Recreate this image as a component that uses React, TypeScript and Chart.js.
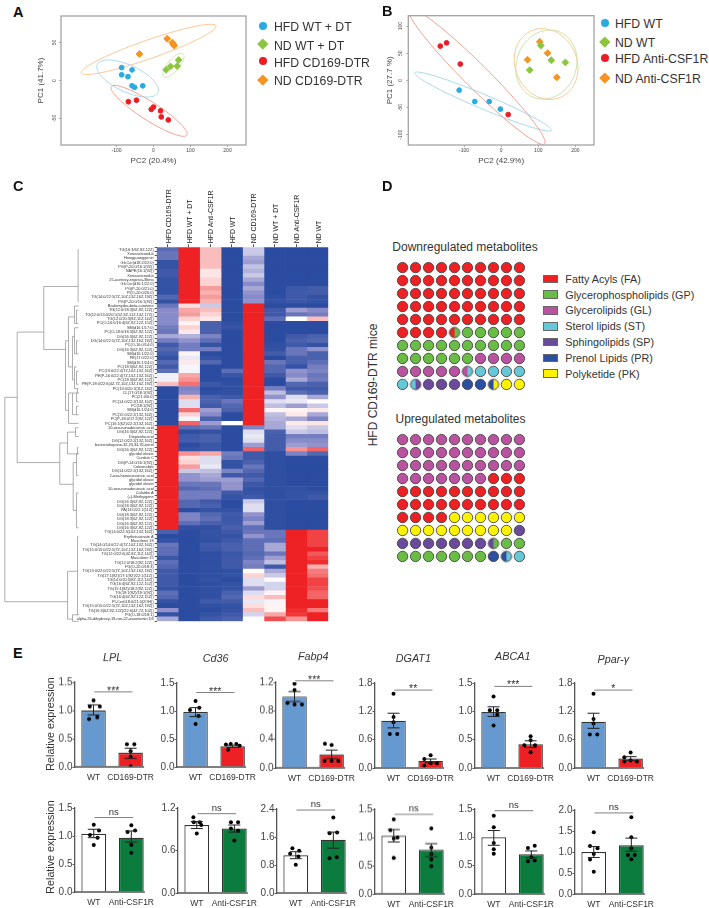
import React, { useEffect, useRef } from "react";
import { Chart, registerables } from "chart.js";
Chart.register(...registerables);

const FONT = "'Liberation Sans', Arial, sans-serif";

// ---------- Panel A ----------
const pcaALegend = ["HFD WT + DT", "ND WT + DT", "HFD CD169-DTR", "ND CD169-DTR"];
const pcaAHfdWt = [[-86, 17], [-58, 14], [-86, 7.5], [-69, 5], [-58, -7], [-51, -9], [-29, -7]];
const pcaANdWt = [[34, 14], [46, 18.5], [64, 19], [68, 27]];
const pcaAHfdDtr = [[-68, -28], [-46, -26], [-6, -38], [0, -35], [19, -40], [21, -48], [40, -52]];
const pcaANdDtr = [[-38, 35], [37, 55], [51, 50], [56, 46], [53, 48]];
// centre x, centre y, major axis x, y, minor axis x, y (data units)
const pcaAEllipses = [
  [-70, 2.6, 82, -18.5, -15, -16],
  [54, 20, 26, 15, 12, -5],
  [-12, -40, 102, -32, -14, -10],
  [-13, 41, 182, 31, 8, -11.6],
];
const pcaXTicks = [-100, 0, 100, 200];
const pcaAYTicks = [-50, 0, 50];

// ---------- Panel B ----------
const pcaBLegend = ["HFD WT", "ND WT", "HFD Anti-CSF1R", "ND Anti-CSF1R"];
const pcaBHfdWt = [[-113, -18], [-71, -39], [-32, -39], [-2, -53]];
const pcaBNdWt = [[107, 64], [135, 37], [173, 33], [77, 19]];
const pcaBHfdAnti = [[-164, 63], [-147, 69], [-110, 30], [19, -63]];
const pcaBNdAnti = [[104, 71], [125, 50], [71, 38], [150, 5.5]];
const pcaBEllipses = [
  [-49, -39, 184, -53, -8, -12],
  [122, 29, 32, 61, 76, -18],
  [-66, 7.4, 183, -124.5, 23, 15.6],
  [121, 30, -40, 61, 76, 23],
];
const pcaBYTicks = [-100, -50, 0, 50, 100];

const speciesColors = ["#29abe2", "#8cc63f", "#ed1c24", "#f7931e"];
const ellipseColors = ["#a9d8f0", "#c9e2a6", "#f2a091", "#f9c896"];

// ---------- Panel C ----------
const heatColumns = [
  "HFD CD169-DTR", "HFD WT + DT", "HFD Anti-CSF1R", "HFD WT",
  "ND CD169-DTR", "ND WT + DT", "ND Anti-CSF1R", "ND WT",
];
const metabolites = [
  "TG(16:3/6Z,9Z,12Z)", "Xenoasteroid-b", "Hongguanggenin", "GlcCer(d18:2/22:0)", "PG(P-20:0/16:1(9Z))",
  "NAPE(16:1(9Z))", "Xenoasteroid-b", "25-acetoxy-ergosta-3beta", "GlcCer(d16:1/22:0)", "PG(P-20:0/21:0)",
  "PI(O-20:0/20:0)", "TG(14:0/22:5(7Z,10Z,13Z,16Z,19Z))", "PG(P-20:0/16:1(9Z))", "Bisdemydro-beta-carotene", "TG(12:0/18:3(6Z,9Z,12Z))",
  "TG(12:0/13:0/20:5(5Z,8Z,11Z,14Z,17Z))", "TG(12:0/20:3(8Z,11Z,14Z))", "PC(O-16:0/16:4(6Z,9Z,12Z,15Z))", "SM(d16:1/17:0)", "PC(O-18:0/18:3(6Z,9Z,12Z))",
  "DG(16:3(6Z,9Z,12Z))", "DG(14:0/22:5(7Z,10Z,13Z,16Z,19Z))", "PC(O-16:0/14:0)", "DG(16:3(6Z,9Z,12Z))", "SM(d16:1/22:0)",
  "PE(17:0/22:0)", "SM(d16:1/24:0)", "PC(18:3(6Z,9Z,12Z))", "PC(13:0/22:4(7Z,10Z,13Z,16Z))", "PE(P-16:0/22:4(7Z,10Z,13Z,16Z))",
  "PC(18:3(6Z,9Z,12Z))", "PE(P-18:0/22:6(4Z,7Z,10Z,13Z,16Z,19Z))", "PC(13:0/20:3(11Z,14Z))", "CL(17:0/18:1(9Z))", "PC(21:0/0:0)",
  "PC(14:0/22:2(13Z,16Z))", "PC(18:1(9Z))", "SM(d16:1/24:0)", "PC(15:0/22:2(13Z,16Z))", "PC(P-18:0/17:2(9Z,12Z))",
  "PC(16:1(6Z)/22:2(13Z,16Z))", "10-oxo-nonadecanoic acid", "DG(16:3(6Z,9Z,12Z))", "Diepoxifucerol", "DG(12:0/22:2(13Z,16Z))",
  "bacteriohopane-32,33,34,35-tetrol", "DG(16:3(6Z,9Z,12Z))", "glycidol oleate", "Cumbin C", "DG(P-14:0/16:1(9Z))",
  "Coleonolide", "DG(14:0/22:2(13Z,16Z))", "2-oxo-heneicosanoic acid", "glycidol oleate", "glycidol oleate",
  "10-oxo-nonadecanoic acid", "Cafaldin A", "(+)-Methyigene", "DG(16:3(6Z,9Z,12Z))", "DG(18:3(6Z,9Z,12Z))",
  "PA(13:0/22:1(11Z))", "DG(18:3(6Z,9Z,12Z))", "DG(18:3(6Z,9Z,12Z))", "DG(16:3(6Z,9Z,12Z))", "DG(16:3(6Z,9Z,12Z))",
  "TG(14:0/22:3(10Z,13Z,16Z))", "Erythrinasinate A", "Mascilone 18", "TG(14:0/14:0/22:4(7Z,10Z,13Z,16Z))", "TG(15:0/15:0/22:5(7Z,10Z,13Z,16Z,19Z))",
  "TG(12:0/22:6(4Z,8Z,11Z,14Z))", "Mascilone 15", "TG(12:0/18:2(9Z,12Z))", "PG(O-20:0/18:3)", "TG(13:0/22:0/22:5(7Z,10Z,13Z,16Z,19Z))",
  "TG(17:1(9Z)/17:1(9Z)/22:1(11Z))", "TG(14:0/20:3(8Z,11Z,14Z))", "TG(16:4(6Z,9Z,12Z,15Z))", "TG(15:1(9Z)/18:2(9Z,12Z))", "TG(19:1(9Z)/19:1(9Z))",
  "TG(16:4(6Z,9Z,12Z,15Z))", "PI-Cer(t18:0/21:0(2OH))", "TG(15:0/15:0/22:5(7Z,10Z,13Z,16Z,19Z))", "TG(16:3(6Z,9Z,12Z)/22:6(4Z,7Z,10Z))", "PG(O-18:0/18:1)",
  "alpha,26-dihydroxy-19-nor-22-oxavitamin D3",
];
const heatCol1 = [
  .22, .3, .3, .05, .05, .1, .1, .05, .05, .05,
  .05, .2, .05, .3, .45, .45, .45, .45, .35, .3,
  .6, .35, .1, .2, .12, .05, .2, .1, .25, .93,
  .93, 1.3, 0, 0, 0, 0, 0, 0, 0, 0,
  0, 2, 2, 2, 2, 2, 2, 2, 2, 2,
  2, 2, 2, 2, 2, 2, 2, 2, 2, 2,
  2, 2, 2, 2, 2, .15, 0, .05, .3, .25,
  .25, .08, .25, .2, .1, .1, .1, .1, .05, .25,
  .2, .05, 0, .5, .05, .6,
];
const heatCol2 = [
  2, 2, 2, 2, 2, 2, 2, 2, 2, 2,
  2, 2, 2, 1.15, 1.4, 1.45, 1.2, 1.05, 1.2, 1.1,
  .65, .5, .35, .35, 1.05, .9, 1.1, .95, .95, 1.4,
  1.5, 1.65, .4, .45, 1.35, .85, .85, 1.65, 1.2, .95,
  1.7, .25, .02, .1, .12, 0, .05, 1.5, 1.15, 1.2,
  1.45, .75, .5, .5, .3, .2, .35, .35, .2, .2,
  0, .4, .4, .25, .03, 0, 0, 0, 0, 0,
  0, 0, 0, 0, 0, 0, 0, 0, 0, 0,
  0, 0, 0, 0, 0, 0,
];
const heatCol3 = [
  1.3, 1.3, 1.3, 1.3, 1.3, 1.12, 1.12, 1.2, 1.2, 1.45,
  1.35, 1.45, 1.35, .75, 1.3, 1.2, 1.1, .15, .15, .15,
  .4, .25, .05, .35, 0, .05, .2, 0, 0, 0,
  0, .08, 0, .02, .15, .15, .1, .55, .45, .15,
  .55, .3, .05, .15, .15, .08, .08, 1.4, .85, .85,
  .9, .7, .6, .55, .3, .25, .35, .35, .1, .15,
  .05, .2, .25, .15, .03, .05, .05, .03, .1, .08,
  .02, .03, .02, .03, .02, .02, .05, .02, .03, .03,
  .03, .1, .03, 0, .05, .1,
];
const heatCol4 = [
  0, 0, 0, 0, 0, 0, 0, 0, 0, 0,
  0, 0, 0, 0, 0, 0, 0, .03, .06, 0,
  0, 0, 0, 0, 0, 0, 0, 0, .25, .08,
  0, .03, .03, .03, .1, .3, .2, .15, 0, 0,
  1, 0, 0, 0, 0, 0, 0, .35, .3, .05,
  .05, .4, .1, .55, .5, .5, .1, .05, 0, 0,
  .05, .1, .08, .1, .15, .1, .05, .1, .15, .15,
  .08, .1, .1, .1, .03, .05, 0, .05, .05, .15,
  .2, .12, .05, .05, .1, .15,
];
const heatCol5 = [
  .75, .75, .6, .55, .72, .65, .75, .6, .45, .6,
  .5, .45, .5, 2, 2, 2, 2, 2, 2, 2,
  2, 2, 2, 2, 2, 2, 2, 2, 2, 2,
  2, 2, 2, 2, 2, 2, 2, 2, 2, 2,
  2, .4, .85, .9, .85, .55, 1.7, .1, .1, .15,
  .3, .2, .1, .2, .08, .05, .05, .1, .75, .85,
  .85, .5, .4, .55, .25, .3, .5, .25, .25, .25,
  .2, .25, .4, .35, 1.02, 1.2, .85, .85, .55, .85,
  1.15, .9, 1.15, 1.3, .8, 1,
];
const heatCol6 = [
  0, 0, 0, 0, 0, 0, 0, 0, 0, 0,
  0, .02, .04, 0, .1, .1, .25, 0, 0, 0,
  0, 0, .03, .04, .12, 0, .3, .2, .2, .1,
  0, 0, .35, .7, .5, .85, .7, 1.05, .7, .65,
  .6, .6, .15, .12, .12, .12, .12, .02, .02, .02,
  .02, .02, .02, .02, .02, .02, .02, .02, .02, .02,
  .02, .02, .02, .02, .02, .3, .3, .25, .6, .6,
  .3, .55, .7, .1, .6, .75, 1.02, .8, .8, 1.05,
  1.3, .95, 1.05, 1.05, 1.4, 1.8,
];
const heatCol7 = [
  0, 0, 0, 0, 0, 0, 0, 0, 0, .08,
  .1, .1, .08, 0, .55, .3, 1, 0, 0, 0,
  .1, .15, .1, .3, .3, .15, .15, .05, .5, .45,
  .6, .2, .1, .25, .85, .9, .55, 1.05, 1.1, .6,
  1.1, .85, .75, .35, .45, .55, 1.5, .4, 0, 0,
  0, 0, 0, 0, 0, .03, .05, .05, 0, 0,
  0, 0, 0, 0, 0, 2, 2, 2, 2, 2,
  2, 2, 2, 2, 2, 2, 2, 2, 2, 2,
  2, 2, 2, 1.95, 1.9, 1.5,
];
const heatCol8 = [
  0, 0, 0, 0, 0, 0, 0, 0, 0, .12,
  .12, .05, .05, 0, .45, .35, 1.3, 0, 0, 0,
  .15, .2, .05, .5, .15, .15, .25, .35, .4, .3,
  .35, .15, .1, .15, .6, 1.02, .75, 1.1, .6, .4,
  1.12, .75, .7, .35, .45, .5, 1.7, .2, 0, 0,
  0, 0, 0, 0, 0, 0, .05, .1, 0, 0,
  0, 0, 0, 0, 0, 1.85, 1.85, 1.85, 1.85, 2,
  1.75, 1.85, 1.95, 1.35, 1.6, 1.65, 1.85, 1.85, 1.8, 1.7,
  1.7, 2, 2, 1.6, 2, 2,
];
const heatColumnsValues = [heatCol1, heatCol2, heatCol3, heatCol4, heatCol5, heatCol6, heatCol7, heatCol8];
// tree merges: height, upper row, lower row, upper child height, lower child height
const dendrogram = [
  [73.7, 34, 81, 61.3, 11], [61.3, 19, 49, 34.7, 18.7], [34.7, 8.5, 23, .4, 13], [.4, 0, 12, 0, 0],
  [13, 21, 37, 10, 10], [10, 15.5, 27, 4, 6], [4, 13, 17, 0, 2], [6, 20, 30, 4, 4], [4, 18, 24, 0, 2],
  [4, 27, 32, 2, 1], [10, 33, 40, 6, 0], [6, 33, 38, 2, 2], [2, 14, 17, 0, 0], [2, 21, 24, 0, 0],
  [2, 28, 31, 0, 0], [1, 32, 33, 0, 0], [2, 33, 35, 0, 0], [2, 36, 38, 0, 0],
  [18.7, 44.5, 54, 11, 5.3], [11, 42, 47, 3, 1], [5.3, 49, 60, 2, 2], [2, 47, 52, 0, 0], [2, 56, 64, 0, 0],
  [3, 41, 43, 0, 0], [1, 45.5, 47, 0, 0], [11, 74, 85, 1, 6], [1, 66, 84, 0, 0], [6, 84, 85.5, 0, 0],
];

// ---------- Panel D ----------
const lipidClasses = [
  "Fatty Acyls (FA)", "Glycerophospholipids (GP)", "Glycerolipids (GL)", "Sterol lipids (ST)",
  "Sphingolipids (SP)", "Prenol Lipids (PR)", "Polyketide (PK)",
];
const lipidCodes = ["FA", "GP", "GL", "ST", "SP", "PR", "PK"];
const lipidColors = ["#ed2024", "#69bd45", "#b9529f", "#66c7d9", "#6a4a9c", "#2d4fa1", "#fff200"];
const downRows = [
  "FA FA FA FA FA FA FA FA FA FA", "FA FA FA FA FA FA FA FA FA FA", "FA FA FA FA FA FA FA FA FA FA",
  "FA FA FA FA FA FA FA FA FA FA", "FA FA FA FA FA FA FA FA FA FA", "FA FA FA FA FA/GP GP GP GP GP GP",
  "GP GP GP GP GP GP GP GP GP GP", "GP GP GP GP GP GP GL GL GL GL", "GL GL GL GL GL GL/ST ST ST ST ST",
  "ST ST/SP SP SP SP PR PR PR/PK PK PK",
];
const upRows = [
  "GL GL GL GL GL GL GL GL GL GL", "GL GL GL GL GL GL GL GL GL GL", "GL GL GL GL GL GL GL GL GL GL",
  "GL GL GL GL GL GL GL FA FA FA", "FA FA FA FA FA FA FA FA FA FA", "FA FA FA FA FA FA FA FA FA FA",
  "FA FA FA FA PK PK PK PK PK PK", "PK PK PK PK PK PK PK PK PK SP", "SP SP SP SP SP SP SP SP/GP GP GP",
  "GP GP GP GP GP GP GP PR PR/ST ST",
];

// ---------- Panel E ----------
const genes = ["LPL", "Cd36", "Fabp4", "DGAT1", "ABCA1", "Ppar-γ", "", "", "", "", "", ""];
const groupsTop = ["WT", "CD169-DTR"];
const groupsBottom = ["WT", "Anti-CSF1R"];
const yMaxes = [1.5, 1.5, 1.2, 1.8, 1.5, 1.8, 1.5, 1.2, 2.4, 1.5, 1.5, 2.0];
const ySteps = [.5, .5, .4, .6, .5, .6, .5, .6, .8, .5, .5, .5];
const wtMeans = [1.0, .98, 1.0, 1.0, .99, .98, 1.04, .96, 1.08, 1.03, 1.0, 1.0];
const otherMeans = [.25, .37, .19, .15, .42, .2, .97, .91, 1.52, .78, .7, 1.16];
const wtErrHigh = [1.1, 1.06, 1.07, 1.16, 1.08, 1.16, 1.12, 1.01, 1.18, 1.14, 1.12, 1.13];
const wtErrLow = [.92, .9, .93, .85, .91, .84, .97, .91, .98, .92, .86, .87];
const otherErrHigh = [.33, .39, .25, .19, .48, .24, 1.09, .96, 1.74, .89, .76, 1.33];
const otherErrLow = [.15, .35, .13, .11, .36, .16, .89, .86, 1.28, .66, .64, 1.02];
const wtValues = [
  [1.18, 1.07, 1.07, .85, .88], [1.18, 1.06, 1.02, .91, .77], [1.18, 1.09, .91, .89, .89],
  [1.57, 1.08, .97, .72, .72], [1.26, 1.02, 1.02, .94, .75], [1.57, 1.04, .94, .71, .71],
  [1.2, 1.1, 1.02, .97, .84], [1.07, 1.0, .96, .84, 1.0], [1.28, 1.21, 1.12, 1.04, .81],
  [1.32, 1.13, 1.0, .98, .64], [1.38, 1.18, .9, .79, .71], [1.47, 1.14, 1.09, .95, .82, .53],
];
const wtJitter = [
  [0, .17, -.1, -.12, .1], [0, .1, -.15, .08, 0], [0, 0, -.19, 0, .2],
  [0, 0, 0, -.1, .1], [0, -.1, .1, .1, 0], [0, 0, 0, -.1, .1],
  [0, .14, -.1, .1, 0], [-.09, .08, .12, 0, -.08], [-.09, .09, -.15, .07, 0],
  [0, -.09, .1, 0, 0], [0, 0, 0, 0, 0], [0, -.1, .1, 0, -.1, 0],
];
const otherValues = [
  [.4, .4, .28, .18, .01], [.4, .41, .41, .38, .31], [.34, .32, .1, .1, .1],
  [.27, .19, .05, .1, .1], [.56, .49, .4, .4, .28], [.33, .23, .14, .16, .14],
  [1.19, 1.07, 1.1, .84, .7], [1.0, 1.0, .91, .88, .74], [2.16, 1.71, 1.73, 1.02, .99],
  [1.16, .82, .71, .61, .49], [.85, .81, .58, .59, .65], [1.83, 1.35, 1.09, .93, .93, .83],
];
const otherJitter = [
  [-.1, .1, 0, 0, 0], [-.18, -.05, .1, .19, -.12], [-.18, 0, -.19, 0, .18],
  [0, -.17, -.17, 0, .17], [0, 0, -.17, .12, 0], [0, -.17, -.17, 0, .17],
  [0, -.1, .1, 0, 0], [-.09, .1, -.09, .1, 0], [0, -.1, .1, .09, -.1],
  [0, 0, 0, 0, 0], [.09, -.09, -.09, .09, 0], [0, 0, 0, -.09, .09, 0],
];
const sigLabels = ["***", "***", "***", "**", "***", "*", "ns", "ns", "ns", "ns", "ns", "ns"];
const sigLevels = [1.33, 1.33, 1.22, 1.65, 1.44, 1.65, 1.33, 1.12, 2.37, 1.41, 1.47, 1.93];

// ---------- layout ----------
const plotsE = [
  [75, 682.3, 766.7], [176.7, 682.7, 767.3], [276, 682.3, 768], [375, 683.3, 768.3], [475, 683.3, 768.3], [575, 683.3, 768.3],
  [75, 807.7, 892.3], [177.7, 808.3, 893.3], [276.7, 809, 893.3], [375, 809, 893.7], [475, 809.3, 894.3], [575, 809.7, 894.3],
];
const titlePosE = [[112.7, 658.3], [215.3, 658.7], [313.3, 657], [413.3, 659.7], [512.7, 657.7], [613.3, 660]];

function pin(box: any, area: any) {
  return {
    padding: { left: 0, bottom: 0, top: area.y - box.y, right: box.x + box.w - area.x - area.w },
    yW: area.x - box.x,
    xH: box.y + box.h - area.y - area.h,
  };
}
const pairs = (a: number[][]) => a.map(([x, y]) => ({ x, y }));

function ellipsePlugin(items: number[][]) {
  return {
    id: "ellipses",
    beforeDatasetsDraw(chart: any) {
      const { ctx, chartArea, scales } = chart;
      ctx.save();
      ctx.beginPath();
      ctx.rect(chartArea.left, chartArea.top, chartArea.width, chartArea.height);
      ctx.clip();
      items.forEach((e, i) => {
        const cx = scales.x.getPixelForValue(e[0]);
        const cy = scales.y.getPixelForValue(e[1]);
        const ax = scales.x.getPixelForValue(e[0] + e[2]) - cx;
        const ay = scales.y.getPixelForValue(e[1] + e[3]) - cy;
        const bx = scales.x.getPixelForValue(e[0] + e[4]) - cx;
        const by = scales.y.getPixelForValue(e[1] + e[5]) - cy;
        ctx.beginPath();
        for (let k = 0; k <= 96; k++) {
          const t = (k / 96) * Math.PI * 2;
          const px = cx + ax * Math.cos(t) + bx * Math.sin(t);
          const py = cy + ay * Math.cos(t) + by * Math.sin(t);
          if (k === 0) ctx.moveTo(px, py);
          else ctx.lineTo(px, py);
        }
        ctx.closePath();
        ctx.strokeStyle = ellipseColors[i];
        ctx.lineWidth = 1;
        ctx.stroke();
      });
      ctx.restore();
    },
    afterDraw(chart: any) {
      const { ctx, chartArea: a } = chart;
      ctx.save();
      ctx.strokeStyle = "#a3a3a3";
      ctx.lineWidth = 1.3;
      ctx.strokeRect(a.left, a.top, a.width, a.height);
      ctx.restore();
    },
  };
}

function pcaConfig(box: any, area: any, sets: number[][][], names: string[], ellipses: number[][], yTicks: number[], yMax: number, xTitle: string, yTitle: string) {
  const p = pin(box, area);
  const axisFont = { family: FONT, size: 5 };
  return {
    type: "scatter",
    data: {
      datasets: sets.map((s, i) => ({
        label: names[i],
        data: pairs(s),
        backgroundColor: speciesColors[i],
        borderColor: speciesColors[i],
        pointStyle: i % 2 ? "rectRot" : "circle",
        pointRadius: i % 2 ? 3.4 : 2.4,
      })),
    },
    options: {
      animation: false,
      responsive: false,
      layout: { padding: p.padding },
      plugins: { legend: { display: false }, tooltip: { enabled: false } },
      scales: {
        x: {
          type: "linear", min: -250, max: 250,
          afterFit: (s: any) => { s.height = p.xH; },
          afterBuildTicks: (s: any) => { s.ticks = pcaXTicks.map((value) => ({ value })); },
          border: { display: false },
          grid: { drawOnChartArea: false, tickLength: 2, tickColor: "#777", tickWidth: .6 },
          ticks: { font: axisFont, color: "#444", padding: 1, maxRotation: 0, autoSkip: false },
          title: { display: true, text: xTitle, font: { family: FONT, size: 8 }, color: "#444", padding: 0 },
        },
        y: {
          type: "linear", min: -yMax, max: yMax,
          afterFit: (s: any) => { s.width = p.yW; },
          afterBuildTicks: (s: any) => { s.ticks = yTicks.map((value) => ({ value })); },
          border: { display: false },
          grid: { drawOnChartArea: false, tickLength: 2, tickColor: "#777", tickWidth: .6 },
          ticks: { font: axisFont, color: "#444", padding: 1, minRotation: 90, maxRotation: 90, autoSkip: false, crossAlign: "center" },
          title: { display: true, text: yTitle, font: { family: FONT, size: 8 }, color: "#444", padding: 0 },
        },
      },
    },
    plugins: [ellipsePlugin(ellipses)],
  };
}

function heatColor(v: number) {
  const stops = [[0, 43, 76, 160], [.5, 146, 146, 205], [1, 255, 255, 255], [2, 238, 34, 36]];
  for (let i = 1; i < stops.length; i++) {
    if (v <= stops[i][0]) {
      const a = stops[i - 1];
      const b = stops[i];
      const t = (v - a[0]) / (b[0] - a[0]);
      return `rgb(${Math.round(a[1] + (b[1] - a[1]) * t)},${Math.round(a[2] + (b[2] - a[2]) * t)},${Math.round(a[3] + (b[3] - a[3]) * t)})`;
    }
  }
  return "rgb(238,34,36)";
}

const dendroPlugin = {
  id: "dendrogram",
  afterDraw(chart: any) {
    const { ctx, scales } = chart;
    const X = (h: number) => 78.5 - h;
    const Y = (r: number) => scales.y.getPixelForValue(r);
    ctx.save();
    ctx.strokeStyle = "#8c8c8c";
    ctx.lineWidth = .7;
    ctx.beginPath();
    dendrogram.forEach(([h, r1, r2, c1, c2]) => {
      ctx.moveTo(X(c1), Y(r1));
      ctx.lineTo(X(h), Y(r1));
      ctx.lineTo(X(h), Y(r2));
      ctx.lineTo(X(c2), Y(r2));
    });
    ctx.stroke();
    ctx.restore();
  },
};

function heatConfig(box: any, area: any) {
  return {
    type: "bar",
    data: {
      labels: metabolites,
      datasets: heatColumnsValues.map((col, c) => ({
        label: heatColumns[c],
        data: col.map(() => [c, c + 1]),
        backgroundColor: col.map(heatColor),
        borderWidth: 0,
        barPercentage: 1,
        categoryPercentage: 1,
        grouped: false,
      })),
    },
    options: {
      indexAxis: "y",
      animation: false,
      responsive: false,
      layout: { padding: { left: 0, top: 0, right: box.x + box.w - area.x - area.w, bottom: box.y + box.h - area.y - area.h } },
      plugins: { legend: { display: false }, tooltip: { enabled: false } },
      scales: {
        x: {
          type: "linear", position: "top", min: 0, max: 8,
          afterFit: (s: any) => { s.height = area.y - box.y; },
          afterBuildTicks: (s: any) => { s.ticks = heatColumns.map((_, i) => ({ value: i + .5 })); },
          border: { display: false },
          grid: { drawOnChartArea: false, tickLength: 3, tickColor: "#222", tickWidth: .8 },
          ticks: {
            font: { family: FONT, size: 6.9 }, color: "#222", padding: 1, minRotation: 90, maxRotation: 90, autoSkip: false, labelOffset: 9.5,
            callback: (_v: any, i: number) => heatColumns[i],
          },
        },
        y: {
          type: "category",
          afterFit: (s: any) => { s.width = area.x - box.x; },
          border: { display: false },
          grid: { drawOnChartArea: false, tickLength: 2, tickColor: "#222", tickWidth: .8 },
          ticks: { font: { family: FONT, size: 3.9 }, color: "#333", padding: 1, autoSkip: false },
        },
      },
    },
    plugins: [dendroPlugin],
  };
}

function splitStyle(a: string, b: string) {
  const c = document.createElement("canvas");
  c.width = 14;
  c.height = 14;
  const g: any = c.getContext("2d");
  g.save();
  g.beginPath();
  g.arc(7, 7, 5.2, 0, Math.PI * 2);
  g.clip();
  g.fillStyle = a;
  g.fillRect(0, 0, 7, 14);
  g.fillStyle = b;
  g.fillRect(7, 0, 7, 14);
  g.restore();
  g.beginPath();
  g.arc(7, 7, 5.2, 0, Math.PI * 2);
  g.strokeStyle = "#444";
  g.lineWidth = .9;
  g.stroke();
  return c;
}

function waffleConfig(box: any, area: any, rows: string[]) {
  const colorOf = (code: string) => lipidColors[lipidCodes.indexOf(code)];
  const cells: any[] = [];
  rows.forEach((row, y) => row.split(" ").forEach((code, x) => cells.push({ x, y, code })));
  return {
    type: "scatter",
    data: { datasets: [{ label: "metabolites", data: cells.map(({ x, y }) => ({ x, y })) }] },
    options: {
      animation: false,
      responsive: false,
      layout: {
        padding: {
          left: area.x - box.x, top: area.y - box.y,
          right: box.x + box.w - area.x - area.w, bottom: box.y + box.h - area.y - area.h,
        },
      },
      plugins: { legend: { display: false }, tooltip: { enabled: false } },
      elements: {
        point: {
          radius: 5.2,
          borderWidth: .9,
          borderColor: "#444",
          backgroundColor: (c: any) => colorOf(cells[c.dataIndex].code.split("/")[0]),
          pointStyle: (c: any) => {
            const parts = cells[c.dataIndex].code.split("/");
            return parts.length > 1 ? splitStyle(colorOf(parts[0]), colorOf(parts[1])) : "circle";
          },
        },
      },
      scales: {
        x: { type: "linear", min: -.5, max: 9.5, display: false },
        y: { type: "linear", min: -.5, max: 9.5, reverse: true, display: false },
      },
    },
  };
}

const barDecor = (i: number) => ({
  id: "barDecor",
  afterDatasetsDraw(chart: any) {
    const { ctx, scales, chartArea } = chart;
    const y = scales.y;
    const x2 = scales.x2;
    ctx.save();
    // x axis line, ending at the second bar's right edge
    ctx.strokeStyle = "#555";
    ctx.lineWidth = 1.3;
    ctx.beginPath();
    ctx.moveTo(chartArea.left - .6, chartArea.bottom);
    ctx.lineTo(x2.getPixelForValue(1) + 13.5, chartArea.bottom);
    ctx.stroke();
    // error bars
    ctx.strokeStyle = "#222";
    ctx.lineWidth = 1;
    [[0, wtMeans[i], wtErrHigh[i], wtErrLow[i]], [1, otherMeans[i], otherErrHigh[i], otherErrLow[i]]].forEach(([pos, , hi, lo]) => {
      const px = x2.getPixelForValue(pos);
      const py1 = y.getPixelForValue(hi);
      const py2 = y.getPixelForValue(lo);
      ctx.beginPath();
      ctx.moveTo(px, py1);
      ctx.lineTo(px, py2);
      ctx.moveTo(px - 6, py1);
      ctx.lineTo(px + 6, py1);
      ctx.moveTo(px - 6, py2);
      ctx.lineTo(px + 6, py2);
      ctx.stroke();
    });
    // significance bracket
    const ly = y.getPixelForValue(sigLevels[i]);
    ctx.strokeStyle = "#7f7f7f";
    ctx.lineWidth = 1;
    ctx.beginPath();
    ctx.moveTo(x2.getPixelForValue(.02), ly);
    ctx.lineTo(x2.getPixelForValue(1.05), ly);
    ctx.stroke();
    const mid = x2.getPixelForValue(.53);
    ctx.fillStyle = "#333";
    ctx.textAlign = "center";
    ctx.textBaseline = "alphabetic";
    if (sigLabels[i] === "ns") {
      ctx.font = `9.5px ${FONT}`;
      ctx.fillText("ns", mid, ly - 3);
    } else {
      ctx.font = `10.5px ${FONT}`;
      ctx.fillText(sigLabels[i], mid, ly + 2);
    }
    // gene title
    if (genes[i]) {
      const [tx, ty] = titlePosE[i];
      const box = chart.canvas.getBoundingClientRect();
      ctx.fillStyle = "#333";
      ctx.font = `italic 10.8px ${FONT}`;
      ctx.textBaseline = "middle";
      ctx.fillText(genes[i], tx - box.left, ty - box.top);
    }
    ctx.restore();
  },
});

function barConfig(box: any, area: any, i: number) {
  const p = pin(box, area);
  const labels = i < 6 ? groupsTop : groupsBottom;
  const fills = i < 6 ? ["#6699cf", "#ed2024"] : ["#ffffff", "#0b7b3e"];
  const pts = [
    ...wtValues[i].map((v, k) => ({ x: wtJitter[i][k], y: v })),
    ...otherValues[i].map((v, k) => ({ x: 1 + otherJitter[i][k], y: v })),
  ];
  return {
    type: "bar",
    data: {
      labels,
      datasets: [
        {
          type: "bar", label: "mean", order: 2,
          data: [wtMeans[i], otherMeans[i]],
          backgroundColor: fills, borderColor: "#333", borderWidth: 1.2,
          barPercentage: .66, categoryPercentage: 1, grouped: false,
        },
        {
          type: "scatter", label: "samples", order: 1, xAxisID: "x2", data: pts,
          pointRadius: 2, backgroundColor: "#000", borderColor: "#000", borderWidth: 0,
        },
      ],
    },
    options: {
      animation: false,
      responsive: false,
      layout: { padding: p.padding },
      plugins: { legend: { display: false }, tooltip: { enabled: false } },
      scales: {
        x: {
          type: "category", offset: true,
          afterFit: (s: any) => { s.height = p.xH; },
          border: { display: false },
          grid: { display: false, drawTicks: false },
          ticks: { font: { family: FONT, size: 8.5 }, color: "#333", padding: 6, maxRotation: 0, autoSkip: false },
        },
        x2: { type: "linear", min: -.5, max: 1.5, display: false, offset: false },
        y: {
          type: "linear", min: 0, max: yMaxes[i],
          afterFit: (s: any) => { s.width = p.yW; },
          border: { display: true, color: "#555", width: 1.3 },
          grid: { drawOnChartArea: false, tickLength: 2.5, tickColor: "#555", tickWidth: 1 },
          ticks: {
            stepSize: ySteps[i], font: { family: FONT, size: 10 }, color: "#444", padding: 0,
            callback: (v: number) => v.toFixed(1),
          },
        },
      },
    },
    plugins: [barDecor(i)],
  };
}

function ChartCanvas({ box, make }: any) {
  const ref = useRef<HTMLCanvasElement>(null);
  useEffect(() => {
    const chart = new Chart(ref.current as any, make());
    return () => chart.destroy();
  }, []);
  return (
    <canvas
      ref={ref}
      width={box.w}
      height={box.h}
      style={{ position: "absolute", left: box.x, top: box.y, width: box.w, height: box.h }}
    />
  );
}

function Txt({ x, y, size, children, bold, rotate, center, color }: any) {
  const tf = rotate ? "translate(-50%,-50%) rotate(-90deg)" : center ? "translate(-50%,-50%)" : "translateY(-50%)";
  return (
    <div
      style={{
        position: "absolute", left: x, top: y, fontFamily: FONT, fontSize: size, lineHeight: 1,
        fontWeight: bold ? 700 : 400, whiteSpace: "nowrap", transform: tf, color: color || "#333",
      }}
    >
      {children}
    </div>
  );
}

function Marker({ x, y, idx }: any) {
  const diamond = idx % 2 === 1;
  const s = diamond ? 7.6 : 8;
  return (
    <div
      style={{
        position: "absolute", left: x - s / 2, top: y - s / 2, width: s, height: s, background: speciesColors[idx],
        borderRadius: diamond ? 0 : "50%", transform: diamond ? "rotate(45deg)" : "none",
      }}
    />
  );
}

const boxA = { x: 36, y: 8, w: 215, h: 158 };
const areaA = { x: 61, y: 16, w: 185, h: 129 };
const boxB = { x: 385, y: 8, w: 214, h: 158 };
const areaB = { x: 408.3, y: 15.7, w: 185.7, h: 129.3 };
const boxC = { x: 0, y: 180, w: 340, h: 445 };
const areaC = { x: 156.7, y: 247.3, w: 171.6, h: 374 };
const boxDown = { x: 390, y: 255, w: 142, h: 142 };
const areaDown = { x: 394.4, y: 260.7, w: 132, h: 131.5 };
const boxUp = { x: 390, y: 427, w: 142, h: 142 };
const areaUp = { x: 395.1, y: 432.1, w: 132, h: 131.8 };

const legendAY = [25.7, 43.3, 61.3, 79.3];
const legendATextY = [26.7, 45.7, 63.3, 81];
const legendBY = [22.7, 42, 58.3, 77.3];
const legendBTextY = [24.3, 43.3, 59.3, 78.7];
const legendDY = [279, 294.7, 310.3, 326.3, 342, 358, 373.7];

export default function App() {
  return (
    <div style={{ position: "absolute", left: 0, top: 0, width: 709, height: 908, overflow: "hidden", background: "#fff" }}>
      <ChartCanvas box={boxA} make={() => pcaConfig(boxA, areaA, [pcaAHfdWt, pcaANdWt, pcaAHfdDtr, pcaANdDtr], pcaALegend, pcaAEllipses, pcaAYTicks, 85, "PC2 (20.4%)", "PC1 (41.7%)")} />
      <ChartCanvas box={boxB} make={() => pcaConfig(boxB, areaB, [pcaBHfdWt, pcaBNdWt, pcaBHfdAnti, pcaBNdAnti], pcaBLegend, pcaBEllipses, pcaBYTicks, 119, "PC2 (42.9%)", "PC1 (27.7 %)")} />
      <ChartCanvas box={boxC} make={() => heatConfig(boxC, areaC)} />
      <ChartCanvas box={boxDown} make={() => waffleConfig(boxDown, areaDown, downRows)} />
      <ChartCanvas box={boxUp} make={() => waffleConfig(boxUp, areaUp, upRows)} />
      {plotsE.map(([ax, top, zero], i) => {
        const box = { x: ax - 26, y: top - 34, w: 26 + 76 + 12, h: zero - top + 34 + 16 };
        const area = { x: ax, y: top, w: 76, h: zero - top };
        return <ChartCanvas key={i} box={box} make={() => barConfig(box, area, i)} />;
      })}

      <Txt x={13} y={12} size={14.5} bold color="#111">A</Txt>
      <Txt x={382} y={11} size={14.5} bold color="#111">B</Txt>
      <Txt x={13} y={186} size={14.5} bold color="#111">C</Txt>
      <Txt x={382} y={186} size={14.5} bold color="#111">D</Txt>
      <Txt x={13} y={653} size={14.5} bold color="#111">E</Txt>

      {pcaALegend.map((n, i) => (
        <React.Fragment key={n}>
          <Marker x={263} y={legendAY[i]} idx={i} />
          <Txt x={274} y={legendATextY[i]} size={12.25}>{n}</Txt>
        </React.Fragment>
      ))}
      {pcaBLegend.map((n, i) => (
        <React.Fragment key={n}>
          <Marker x={605} y={legendBY[i]} idx={i} />
          <Txt x={615} y={legendBTextY[i]} size={12.25}>{n}</Txt>
        </React.Fragment>
      ))}

      <Txt x={465} y={247} size={12} center>Downregulated metabolites</Txt>
      <Txt x={460.5} y={419} size={12} center>Upregulated metabolites</Txt>
      <Txt x={373} y={385} size={12} rotate>HFD CD169-DTR mice</Txt>
      {lipidClasses.map((n, i) => (
        <React.Fragment key={n}>
          <div
            style={{
              position: "absolute", left: 542.7, top: legendDY[i] - 4.3, width: 15, height: 8.6, boxSizing: "border-box",
              background: lipidColors[i], border: "1px solid #666",
            }}
          />
          <Txt x={565.3} y={legendDY[i]} size={10.8}>{n}</Txt>
        </React.Fragment>
      ))}

      <Txt x={50} y={723.7} size={10.7} rotate>Relative expression</Txt>
      <Txt x={50} y={846.7} size={10.7} rotate>Relative expression</Txt>
    </div>
  );
}
